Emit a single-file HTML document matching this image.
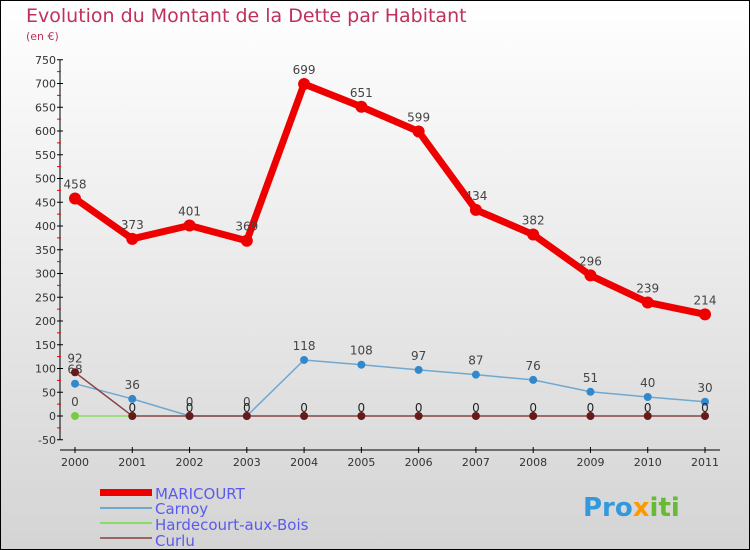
<!DOCTYPE html>
<html><head><meta charset="utf-8"><style>
body{margin:0}
#c{width:750px;height:550px;position:relative;overflow:hidden}
text{font-family:"DejaVu Sans","Liberation Sans",sans-serif}
</style></head><body>
<div id="c">
<svg id="s" width="750" height="550" xmlns="http://www.w3.org/2000/svg">
<defs><linearGradient id="bg" x1="0" y1="0" x2="0" y2="1"><stop offset="0" stop-color="#ffffff"/><stop offset="1" stop-color="#d4d4d4"/></linearGradient></defs>
<rect x="0.5" y="0.5" width="749" height="549" fill="url(#bg)" stroke="#000"/>
<text x="26" y="22" font-size="19" fill="#c0305a">Evolution du Montant de la Dette par Habitant</text>
<text x="26" y="40" font-size="11" fill="#c0305a">(en €)</text>
<g id="axes"></g><g id="plot"></g>
<g>
<rect x="100" y="489" width="52" height="7" fill="#ee0000"/>
<text x="155" y="499" font-size="15" fill="#5a5aee">MARICOURT</text>
<line x1="100" y1="508" x2="152" y2="508" stroke="#6fa8d0" stroke-width="2"/>
<text x="155" y="514" font-size="15" fill="#5a5aee">Carnoy</text>
<line x1="100" y1="523" x2="152" y2="523" stroke="#88dd66" stroke-width="2"/>
<text x="155" y="530" font-size="15" fill="#5a5aee">Hardecourt-aux-Bois</text>
<line x1="100" y1="538" x2="152" y2="538" stroke="#996666" stroke-width="2"/>
<text x="155" y="546" font-size="15" fill="#5a5aee">Curlu</text>
</g>
<text x="583" y="516" font-size="26" font-weight="bold" fill="#3399dd">Pro<tspan fill="#ff9900">x</tspan><tspan fill="#66bb33">iti</tspan></text>
</svg></div>
<script>
const years=["2000","2001","2002","2003","2004","2005","2006","2007","2008","2009","2010","2011"];
const maricourt=[458,373,401,369,699,651,599,434,382,296,239,214];
const carnoy=[68,36,0,0,118,108,97,87,76,51,40,30];
const hardecourt=[0,0,0,0,0,0,0,0,0,0,0,0];
const curlu=[92,0,0,0,0,0,0,0,0,0,0,0];
const yTicks=[-50,0,50,100,150,200,250,300,350,400,450,500,550,600,650,700,750];
const NS="http://www.w3.org/2000/svg";
const X=i=>75+i*(630/11), Y=v=>416-v*0.475;
function mk(t,a,p){const e=document.createElementNS(NS,t);for(const k in a)e.setAttribute(k,a[k]);p.appendChild(e);return e;}
const ax=document.getElementById('axes'),pl=document.getElementById('plot');
let e=mk('line',{x1:60,y1:Y(750),x2:60,y2:Y(-50),stroke:'#000'},ax);

e=mk('line',{x1:60,y1:450,x2:720,y2:450,stroke:'#000'},ax);

yTicks.forEach((v,i)=>{mk('line',{x1:57,y1:Y(v),x2:63,y2:Y(v),stroke:'#000'},ax);
 if(i<yTicks.length-1)mk('line',{x1:57,y1:Y(v+25),x2:61,y2:Y(v+25),stroke:'#e00'},ax);
 const t=mk('text',{x:56,y:Y(v)+4,'font-size':11,fill:'#333','text-anchor':'end'},ax);t.textContent=v;
 });
years.forEach((y,i)=>{mk('line',{x1:X(i),y1:447,x2:X(i),y2:453,stroke:'#000'},ax);
 const t=mk('text',{x:X(i),y:466,'font-size':11,fill:'#333','text-anchor':'middle'},ax);t.textContent=y;
 });
function series(d,col,w,r,dot,name,labels,lim){
 const n=lim||d.length;
 const p=mk('polyline',{points:d.slice(0,n).map((v,i)=>X(i)+','+Y(v)).join(' '),fill:'none',stroke:col,'stroke-width':w,'stroke-linejoin':'round'},pl);
 
 d.slice(0,n).forEach((v,i)=>{const c=mk('circle',{cx:X(i),cy:Y(v),r:r,fill:dot},pl);
  
  if(labels){const t=mk('text',{x:X(i),y:Y(v)-10,'font-size':12,fill:'#444','text-anchor':'middle'},pl);t.textContent=v;
  }});
}
series(hardecourt,'#88dd66',1.5,4,'#77cc44','hardecourt',false,2);
const t0=mk('text',{x:X(0),y:Y(0)-10,'font-size':12,fill:'#444','text-anchor':'middle'},pl);t0.textContent=hardecourt[0];

series(carnoy,'#6fa8d0',1.5,4,'#3388cc','carnoy',true);
series(curlu,'#884444',1.5,4,'#661a1a','curlu',false);
curlu.forEach((v,i)=>{if(i>0){const t=mk('text',{x:X(i),y:Y(v)-4,'font-size':12,fill:'#222','text-anchor':'middle'},pl);t.textContent=v;
 }else{const t=mk('text',{x:X(i),y:Y(v)-10,'font-size':12,fill:'#444','text-anchor':'middle'},pl);t.textContent=v;
 }});
series(maricourt,'#ee0000',7,6,'#ee0000','maricourt',true);
</script></body></html>
